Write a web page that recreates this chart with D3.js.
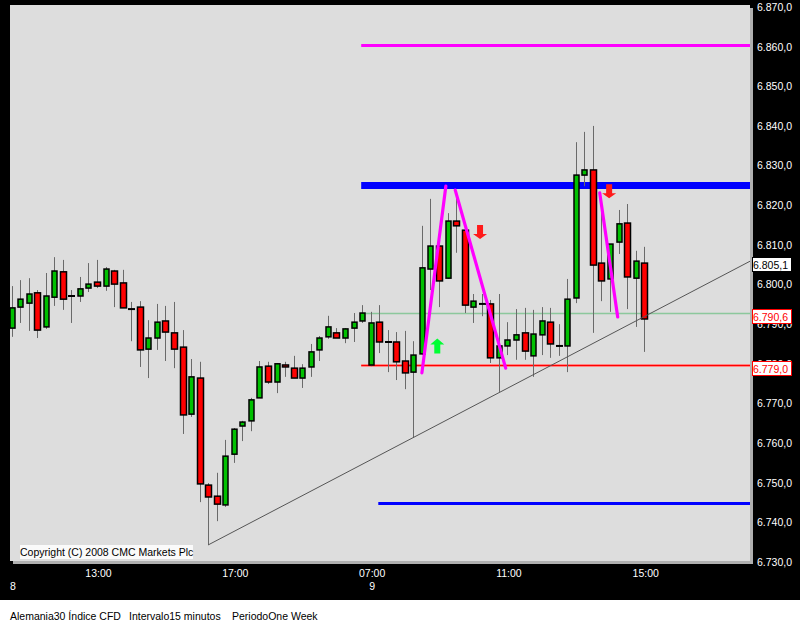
<!DOCTYPE html>
<html><head><meta charset="utf-8">
<script src="https://cdn.jsdelivr.net/npm/d3@7"></script>
<style>html,body{margin:0;padding:0;background:#fff;}svg{display:block;}text{font-family:"Liberation Sans",Arial,sans-serif;font-size:10.5px;}</style>
</head><body><div id="chart"></div>
<script>
// ---- data (15-minute candles, index = bar number) ----
const opens = [6789.0,6794.3,6795.3,6797.9,6789.3,6796.8,6803.2,6797.1,6797.1,6799.1,6800.6,6799.6,6803.4,6800.4,6793.8,6794.3,6783.7,6786.5,6790.8,6787.8,6784.2,6767.3,6776.4,6749.4,6746.6,6744.4,6757.2,6764.3,6765.6,6771.4,6779.4,6775.4,6779.7,6778.9,6776.4,6779.2,6783.5,6786.8,6787.8,6786.5,6789.0,6790.8,6779.7,6790.5,6785.5,6785.5,6780.7,6777.9,6782.5,6803.9,6809.7,6801.6,6816.0,6813.7,6794.3,6795.1,6795.1,6781.5,6784.5,6786.0,6787.8,6782.0,6787.3,6790.5,6784.5,6784.5,6796.6,6827.6,6828.9,6805.4,6801.4,6810.7,6815.5,6801.6,6805.4];
const highs = [6799.6,6801.1,6801.6,6798.6,6802.9,6806.9,6806.2,6798.6,6801.9,6805.4,6806.2,6804.4,6803.7,6803.7,6795.6,6795.8,6791.0,6795.1,6794.6,6795.6,6788.5,6781.2,6780.5,6749.9,6752.5,6760.8,6763.8,6765.6,6771.4,6780.7,6780.5,6780.2,6780.5,6782.0,6779.9,6785.0,6787.0,6792.1,6789.0,6789.0,6792.8,6794.8,6793.1,6794.8,6788.5,6788.0,6788.3,6785.7,6814.8,6821.6,6813.2,6818.0,6822.5,6815.0,6797.6,6797.6,6796.1,6797.6,6790.5,6793.8,6794.1,6793.6,6794.3,6794.1,6790.0,6801.4,6835.9,6838.5,6840.0,6819.0,6810.2,6818.8,6820.3,6808.5,6809.5];
const lows = [6786.8,6790.3,6788.3,6786.5,6788.8,6794.6,6793.6,6790.3,6795.6,6798.1,6799.1,6798.4,6794.3,6794.1,6785.7,6779.2,6776.4,6783.5,6780.7,6778.9,6762.3,6766.6,6745.1,6734.3,6740.3,6743.9,6755.0,6760.5,6763.0,6771.4,6774.9,6772.6,6776.7,6776.4,6773.9,6776.7,6780.7,6786.3,6786.5,6785.2,6785.5,6790.3,6779.4,6782.7,6777.9,6775.9,6773.6,6761.3,6782.2,6798.6,6794.3,6801.4,6808.0,6792.8,6790.3,6792.0,6780.2,6772.9,6782.2,6781.0,6781.0,6776.7,6782.2,6781.5,6782.0,6777.9,6795.3,6824.8,6787.8,6795.8,6793.1,6807.7,6793.8,6789.3,6783.0];
const closes = [6794.1,6796.3,6797.6,6788.5,6797.1,6803.4,6796.3,6797.1,6798.9,6800.1,6799.6,6803.9,6800.1,6794.1,6793.8,6783.5,6786.5,6790.5,6788.0,6783.7,6767.1,6776.7,6749.7,6746.4,6744.6,6756.7,6763.5,6765.3,6770.9,6779.2,6775.4,6780.0,6779.2,6776.4,6778.9,6783.0,6786.5,6789.3,6786.5,6788.8,6790.5,6792.8,6790.3,6785.5,6785.5,6780.5,6777.7,6782.2,6804.2,6809.7,6800.9,6816.0,6814.8,6794.8,6795.8,6795.1,6781.5,6784.5,6786.0,6787.3,6783.2,6787.5,6790.8,6785.0,6784.5,6796.3,6827.6,6828.9,6804.9,6800.9,6810.2,6815.3,6801.9,6805.9,6791.3];

const timeTickIdx = [10, 26, 42, 58, 74];
const timeTickLabels = ["13:00", "17:00", "07:00", "11:00", "15:00"];
const dayTickIdx = [0, 42];
const dayTickLabels = ["8", "9"];

const yTicks = [6730,6740,6750,6760,6770,6780,6790,6800,6810,6820,6830,6840,6850,6860,6870];

// horizontal levels: value, start index, color, width
const levelValues = [6860.4, 6825.1, 6744.9, 6792.8, 6779.7];
const levelStart  = [40.9, 40.9, 42.9, 40.9, 40.9];
const levelColors = ["#ff00ff", "#0000ff", "#0000ff", "#8cc89c", "#ff0000"];
const levelWidths = [3, 7, 3, 1.5, 1.5];

// trend line anchor points [index, value]
const trendPts = [[23, 6734.3], [86.4, 6805.9]];

// drawn magenta segments [[i0,v0],[i1,v1]]
const magentaSegs = [
  [[48.0, 6777.7], [50.8, 6824.8]],
  [[51.9, 6823.8], [57.8, 6778.9]],
  [[68.8, 6823.1], [70.9, 6791.8]]
];
// arrows: index, value (tip side start), direction
const arrowIdx = [49.8, 54.8, 69.9];
const arrowVal = [6786.4, 6815.0, 6825.3];
const arrowDir = ["up", "down", "down"];

// right-hand value boxes
const boxLabels = ["6.805,1", "6.790,6", "6.779,0"];
const boxValues = [6805.9, 6792.8, 6779.7];
const boxColors = ["#000000", "#ff0000", "#ff0000"];

const footer = ["Alemania30 Índice CFD", "Intervalo15 minutos", "PeriodoOne Week"];

// ---- drawing ----
const W = 800, H = 625;
const P = {l: 10, t: 5, r: 750, b: 561};
const svg = d3.select("#chart").append("svg").attr("width", W).attr("height", H);
svg.append("rect").attr("x",0).attr("y",0).attr("width",W).attr("height",H).attr("fill","#fff");
svg.append("rect").attr("x",0).attr("y",0).attr("width",W).attr("height",600).attr("fill","#000");

const x = d3.scaleLinear().domain([0, 74]).range([11.5, 644.2]);
const y = d3.scaleLinear().domain([6730, 6870]).range([562, 7]);

// plot area + shadow
svg.append("rect").attr("x", P.r).attr("y", P.t + 3).attr("width", 3).attr("height", P.b - P.t).attr("fill", "#b0b0b0");
svg.append("rect").attr("x", P.l + 3).attr("y", P.b).attr("width", P.r - P.l).attr("height", 3).attr("fill", "#b0b0b0");
svg.append("rect").attr("x", P.l).attr("y", P.t).attr("width", P.r - P.l).attr("height", P.b - P.t).attr("fill", "#dddddd");

svg.append("clipPath").attr("id","clip").append("rect").attr("x",P.l).attr("y",P.t).attr("width",P.r-P.l).attr("height",P.b-P.t);
const g = svg.append("g").attr("clip-path","url(#clip)");

// levels
levelValues.forEach((v, k) => {
  if (k === 4) {
    g.append("line").attr("x1", x(levelStart[k])).attr("x2", P.r).attr("y1", Math.round(y(v))+0.5).attr("y2", Math.round(y(v))+0.5)
      .attr("stroke", "#ffb0b0").attr("stroke-width", 3);
  }
  g.append("line").attr("x1", x(levelStart[k])).attr("x2", P.r)
    .attr("y1", Math.round(y(v)) + 0.5).attr("y2", Math.round(y(v)) + 0.5)
    .attr("stroke", levelColors[k]).attr("stroke-width", levelWidths[k]);
});

// candles
const idx = d3.range(opens.length);
const cx = i => Math.round(x(i));
g.selectAll("line.wick").data(idx).join("line").attr("class","wick")
  .attr("x1", i => cx(i) + 0.5).attr("x2", i => cx(i) + 0.5)
  .attr("y1", i => y(highs[i])).attr("y2", i => y(lows[i]))
  .attr("stroke", "#6a6a6a").attr("stroke-width", 1);

idx.forEach(i => {
  const o = opens[i], c = closes[i];
  if (o === c) {
    g.append("line").attr("x1", cx(i) - 3).attr("x2", cx(i) + 4)
      .attr("y1", y(o)).attr("y2", y(o)).attr("stroke", "#000").attr("stroke-width", 2);
  } else {
    const up = c > o;
    const w = up ? 5 : 6;
    const top = y(Math.max(o, c)), bot = y(Math.min(o, c));
    g.append("rect").attr("x", cx(i) + 0.5 - w / 2).attr("width", w)
      .attr("y", top).attr("height", Math.max(1, bot - top))
      .attr("fill", up ? "#00c000" : "#ff0000").attr("stroke", "#000").attr("stroke-width", 1.5);
  }
});

// trend line
g.append("line").attr("x1", x(trendPts[0][0])).attr("y1", y(trendPts[0][1]))
  .attr("x2", x(trendPts[1][0])).attr("y2", y(trendPts[1][1]))
  .attr("stroke", "#555").attr("stroke-width", 1);

// magenta annotations
magentaSegs.forEach(s => {
  g.append("line").attr("x1", x(s[0][0])).attr("y1", y(s[0][1]))
    .attr("x2", x(s[1][0])).attr("y2", y(s[1][1]))
    .attr("stroke", "#ff00ff").attr("stroke-width", 3.2).attr("stroke-linecap","round");
});

// arrows
arrowIdx.forEach((ai, k) => {
  const ax = x(ai), ay = y(arrowVal[k]);
  let d;
  if (arrowDir[k] === "down") {
    d = `M${ax-3},${ay}L${ax+3},${ay}L${ax+3},${ay+9}L${ax+7},${ay+9}L${ax},${ay+14}L${ax-7},${ay+9}L${ax-3},${ay+9}Z`;
    g.append("path").attr("d", d).attr("fill", "#ff1a1a");
  } else {
    d = `M${ax},${ay}L${ax+7},${ay+6}L${ax+3},${ay+6}L${ax+3},${ay+15}L${ax-3},${ay+15}L${ax-3},${ay+6}L${ax-7},${ay+6}Z`;
    g.append("path").attr("d", d).attr("fill", "#00ff33");
  }
});

// copyright box
const cp = svg.append("g");
cp.append("rect").attr("x", 20).attr("y", 545).attr("width", 173).attr("height", 14).attr("fill", "#fafafa");
cp.append("text").attr("x", 20).attr("y", 556).attr("fill", "#000").text("Copyright (C) 2008 CMC Markets Plc");

// y axis (right)
const fmt = d3.formatLocale({decimal: ",", thousands: ".", grouping: [3], currency: ["", ""]}).format(",.1f");
const yAxis = d3.axisRight(y).tickValues(yTicks).tickSize(0).tickPadding(7).tickFormat(fmt);
const ya = svg.append("g").attr("transform", `translate(${P.r},0)`).call(yAxis);
ya.select(".domain").remove();
ya.selectAll("text").attr("fill", "#fff").style("font-size", "10.5px").style("font-family", '"Liberation Sans",Arial,sans-serif');

// value boxes
boxLabels.forEach((lab, k) => {
  const by = Math.round(y(boxValues[k])) - 4;
  svg.append("rect").attr("x", 752.5).attr("y", by + 0.5).attr("width", 39).attr("height", 14)
    .attr("fill", "#fff").attr("stroke", boxColors[k]).attr("stroke-width", 1);
  svg.append("text").attr("x", 753).attr("y", by + 11.5).attr("fill", boxColors[k]).text(lab);
});

// x axis labels
timeTickIdx.forEach((ti, k) => {
  svg.append("text").attr("x", x(ti) + 1.5).attr("y", 577).attr("text-anchor", "middle")
    .attr("fill", "#fff").text(timeTickLabels[k]);
});
dayTickIdx.forEach((ti, k) => {
  svg.append("text").attr("x", x(ti) + 1.5).attr("y", 590).attr("text-anchor", "middle")
    .attr("fill", "#fff").text(dayTickLabels[k]);
});

// footer
const fx = [10, 129, 232];
footer.forEach((t, k) => {
  svg.append("text").attr("x", fx[k]).attr("y", 620).attr("fill", "#000").text(t);
});
</script></body></html>
